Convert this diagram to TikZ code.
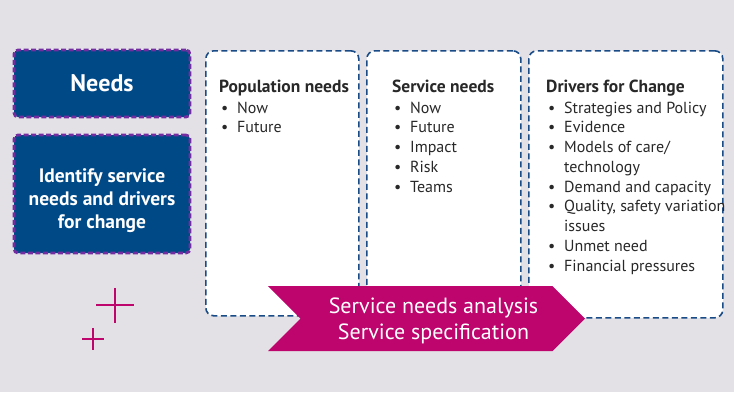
\documentclass[tikz,border=0pt]{standalone}
\usepackage{fontspec}
\setmainfont{PT Sans}
\usetikzlibrary{shapes.symbols, positioning}

\definecolor{bggrey}{RGB}{227,225,230}
\definecolor{needblue}{RGB}{0,73,135}
\definecolor{needpurple}{RGB}{115,45,160}
\definecolor{dashblue}{RGB}{25,75,135}
\definecolor{arrowmag}{RGB}{190,5,110}
\definecolor{textgrey}{RGB}{40,40,40}

\newcommand{\bul}{\hspace*{2pt}\makebox[16pt][l]{\textbullet}}
\newcommand{\cont}{\hspace*{18pt}}

\begin{document}
\begin{tikzpicture}[x=1pt, y=-1pt,
    bluebox/.style={draw=needpurple, dash pattern=on 5pt off 2.5pt, line width=2.8pt, fill=needblue,
      rounded corners=4pt, text=white, align=center, minimum width=176pt, inner sep=0pt},
    whitebox/.style={draw=dashblue, dash pattern=on 6pt off 3.5pt, line width=1.6pt, fill=white,
      rounded corners=8pt, anchor=north west, inner sep=0pt},
    head/.style={inner sep=0pt, text=textgrey, font=\fontsize{17.5}{21}\selectfont\bfseries},
    list/.style={inner sep=0pt, text=textgrey, align=left, font=\fontsize{16}{19.75}\selectfont}]

    \fill[bggrey] (0,0) rectangle (734,392);
    \useasboundingbox (0,0) rectangle (734,392);

    \node [bluebox, minimum height=67pt, font=\fontsize{24}{28}\selectfont\bfseries] (needs) at (102,83.5) {Needs};
    \node [bluebox, minimum height=118pt, font=\fontsize{19.5}{23}\selectfont\bfseries] (identify) at (102,194)
      {\rule{0pt}{27pt}Identify service\\ needs and drivers\\ for change};

    \node [whitebox, minimum width=153pt, minimum height=265pt] (pop) at (205,50) {};
    \node [whitebox, minimum width=154pt, minimum height=265pt] (serv) at (366,50) {};
    \node [whitebox, minimum width=194pt, minimum height=267pt] (drivers) at (528,50) {};

    % lists sit on the baseline of their last line
    \node [head, below right=42pt and 14pt of pop.north west, anchor=base west] (pophead) {Population needs};
    \node [list, below=40.75pt of pophead.base west, anchor=base west] (poplist)
      {\bul Now\\ \bul Future};

    \node [head, below right=42pt and 26pt of serv.north west, anchor=base west] (servhead) {Service needs};
    \node [list, below=100pt of servhead.base west, anchor=base west] (servlist)
      {\bul Now\\ \bul Future\\ \bul Impact\\ \bul Risk\\ \bul Teams};

    \node [head, below right=42pt and 18pt of drivers.north west, anchor=base west] (drivhead) {Drivers for Change};
    \node [list, below=179pt of drivhead.base west, anchor=base west] (drivlist)
      {\bul Strategies and Policy\\ \bul Evidence\\ \bul Models of care/\\ \cont technology\\
       \bul Demand and capacity\\ \bul Quality, safety variation\\ \cont issues\\
       \bul Unmet need\\ \bul Financial pressures};

    \node [signal, signal from=west, signal to=east, fill=arrowmag, inner sep=0pt,
      minimum width=317pt, minimum height=65pt] (analysis) at (426.5,318.5) {};
    \node [text=white, align=center, inner sep=0pt, anchor=base, font=\fontsize{22}{26}\selectfont]
      (analysistext) at ([xshift=7pt, yshift=-20.5pt]analysis.center)
      {Service needs analysis\\ Service specification};

    % decorative crosses
    \draw[arrowmag, line width=1.3pt] (96,305) -- (134,305) (115,288) -- (115,323);
    \draw[arrowmag, line width=1.3pt] (82,339) -- (104,339) (93,328) -- (93,350);
  \end{tikzpicture}
\end{document}
